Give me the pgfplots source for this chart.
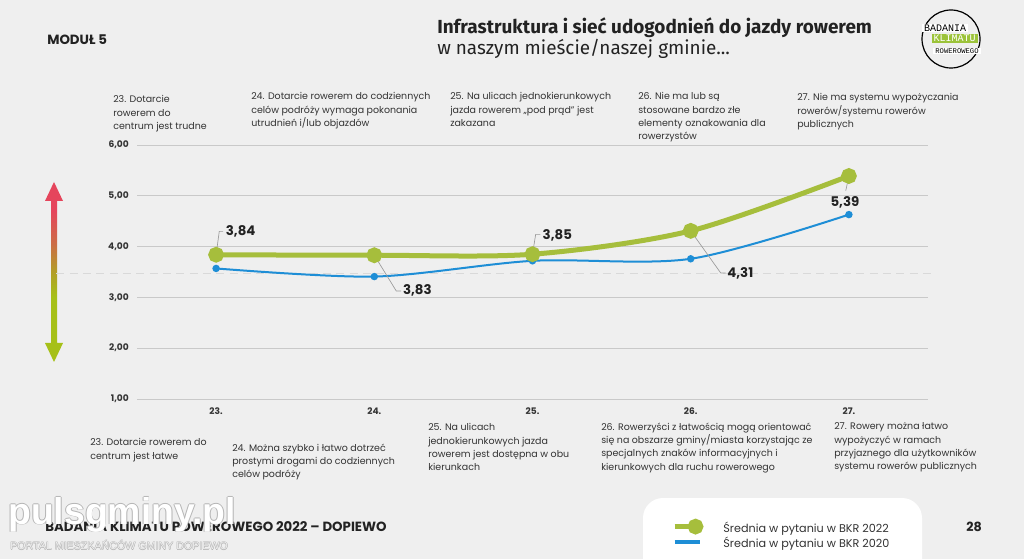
\documentclass[border=0pt]{standalone}
\usepackage{fontspec}
\setmainfont{Poppins}
\newfontfamily\titlefont{Fira Sans}
\newfontfamily\logofont{Liberation Mono}
\newfontfamily\wmfont{Liberation Sans}
\usepackage{pgfplots}
\pgfplotsset{compat=1.18}

\definecolor{bg}{HTML}{EFEFEF}
\definecolor{bkrgreen}{HTML}{A6BE3C}
\definecolor{bkrblue}{HTML}{1E8ED6}
\definecolor{gridc}{HTML}{C9C9C9}
\definecolor{dashc}{HTML}{D9D9D9}
\definecolor{txt}{HTML}{333333}
\definecolor{txtdark}{HTML}{222222}
\definecolor{leader}{HTML}{9A9A9A}
\definecolor{arrred}{HTML}{E5455C}
\definecolor{arrorange}{HTML}{CC6C46}
\definecolor{arrolive}{HTML}{B29E26}
\definecolor{arrgreen}{HTML}{A6C018}
\definecolor{logogreen}{HTML}{9CC33A}
\definecolor{wmgray}{HTML}{B5B5B5}

\pgfdeclareverticalshading{arrowshade}{100bp}{color(0bp)=(arrgreen); color(43bp)=(arrgreen); color(50bp)=(arrolive); color(58bp)=(arrorange); color(67bp)=(arrred); color(100bp)=(arrred)}

\begin{document}
\begin{tikzpicture}[x=0.75pt,y=-0.75pt,
  ann/.style={anchor=north west, align=left, inner sep=0pt, font=\fontsize{7.1}{10}\selectfont, text=txt}]
\useasboundingbox (0,0) rectangle (1024,559);
\clip (0,0) rectangle (1024,559);
\fill[bg] (0,0) rectangle (1024,559);
\coordinate (axorigin) at (137,399);

% header
\node[anchor=west, font=\bfseries\fontsize{10}{12}\selectfont, text=txtdark, inner sep=0pt] at (47,40) {MODUŁ 5};
\node[anchor=west, font=\titlefont\bfseries\fontsize{14.2}{16}\selectfont, text=txtdark, inner sep=0pt] at (437,28) {Infrastruktura i sieć udogodnień do jazdy rowerem};
\node[anchor=west, font=\titlefont\fontsize{14.2}{16}\selectfont, text=txtdark, inner sep=0pt] at (437,49) {w naszym mieście/naszej gminie...};

% logo
\draw[line width=0.9pt, black] (951,39) circle[radius=21.75pt];
\node[fill=white, inner xsep=1.5pt, inner ysep=0.6pt, font=\logofont\fontsize{7.5}{8}\selectfont, text=black] at (945,28) {BADANIA};
\node[fill=logogreen, inner xsep=1.5pt, inner ysep=0.6pt, font=\logofont\fontsize{7.5}{8}\selectfont, text=white] at (954.5,38.5) {KLIMATU};
\node[fill=white, inner xsep=1.5pt, inner ysep=0.6pt, font=\logofont\fontsize{5.4}{6}\selectfont, text=black] at (957,51) {ROWEROWEGO};

% gradient arrow
\shade[shading=arrowshade] (54,182) -- (63,201) -- (57,201) -- (57,343) -- (63,343) -- (54,362) -- (45,343) -- (51,343) -- (51,201) -- (45,201) -- cycle;

% top annotations
\node[ann] at (113,95.5) {23. Dotarcie\\rowerem do\\centrum jest trudne};
\node[ann] at (251,92.5) {24. Dotarcie rowerem do codziennych\\celów podróży wymaga pokonania\\utrudnień i/lub objazdów};
\node[ann] at (450,92.5) {25. Na ulicach jednokierunkowych\\jazda rowerem „pod prąd” jest\\zakazana};
\node[ann] at (638,92.5) {26. Nie ma lub są\\stosowane bardzo złe\\elementy oznakowania dla\\rowerzystów};
\node[ann] at (797,93.5) {27. Nie ma systemu wypożyczania\\rowerów/systemu rowerów\\publicznych};

% bottom annotations
\node[ann] at (90,438.5) {23. Dotarcie rowerem do\\centrum jest łatwe};
\node[ann] at (232,443.5) {24. Można szybko i łatwo dotrzeć\\prostymi drogami do codziennych\\celów podróży};
\node[ann] at (428,423.5) {25. Na ulicach\\jednokierunkowych jazda\\rowerem jest dostępna w obu\\kierunkach};
\node[ann] at (601,422.5) {26. Rowerzyści z łatwością mogą orientować\\się na obszarze gminy/miasta korzystając ze\\specjalnych znaków informacyjnych i\\kierunkowych dla ruchu rowerowego};
\node[ann] at (834,422.5) {27. Rowery można łatwo\\wypożyczyć w ramach\\przyjaznego dla użytkowników\\systemu rowerów publicznych};

% legend box and footer
\fill[white, rounded corners=15pt] (643,498) rectangle (922,620);
\node[anchor=west, font=\bfseries\fontsize{10}{12}\selectfont, text=txtdark, inner sep=0pt] at (45,527) {BADANIA KLIMATU ROWEROWEGO 2022 – DOPIEWO};
\node[font=\bfseries\fontsize{9.5}{11}\selectfont, text=txtdark, inner sep=0pt] at (974,527) {28};

\begin{axis}[
  at={(axorigin)}, anchor=south west,
  width=593.25pt, height=190.5pt, scale only axis,
  xmin=22.5, xmax=27.5, ymin=1, ymax=6,
  xtick={23,24,25,26,27}, xticklabels={23.,24.,25.,26.,27.},
  ytick={1,2,3,4,5,6}, yticklabels={{1,00},{2,00},{3,00},{4,00},{5,00},{6,00}},
  ymajorgrids, major grid style={draw=gridc, line width=0.75pt},
  axis line style={draw=none}, major tick length=0pt,
  tick label style={font=\bfseries\fontsize{6.8}{8}\selectfont, text=txt, inner sep=0pt},
  xticklabel style={anchor=center, yshift=-9pt},
  yticklabel style={anchor=east, xshift=-6pt},
  clip=false,
  legend style={at={(0.6764,-0.5335)}, anchor=west, draw=none, fill=none,
    inner sep=0pt, outer sep=0pt, font=\fontsize{8.4}{9}\selectfont, text=txt,
    row sep=3.45pt, column sep=15pt,
    nodes={inner sep=0pt, text height=6pt, text depth=1.8pt}},
  legend cell align=left, reverse legend,
]
\draw[dashc, line width=0.75pt, dash pattern=on 6pt off 4pt] (axis cs:21.99,3.47) -- (axis cs:27.544,3.47);

\addplot[bkrblue, line width=1.5pt, smooth, mark=*, mark size=2pt,
  mark options={solid, draw=none, fill=bkrblue},
  legend image code/.code={\draw[bkrblue, line width=3pt] (0pt,2.5pt) -- (18.75pt,2.5pt);}]
  coordinates {(23,3.57) (24,3.41) (25,3.72) (26,3.76) (27,4.63)};
\addlegendentry{Średnia w pytaniu w BKR 2020}

\addplot[bkrgreen, line width=3.75pt, smooth, mark=*, mark size=4pt,
  mark options={solid, draw=none, fill=bkrgreen},
  legend image code/.code={\draw[bkrgreen, line width=3.75pt] (0pt,2.5pt) -- (15.75pt,2.5pt); \fill[bkrgreen] (15.75pt,2.5pt) circle[radius=4pt];}]
  coordinates {(23,3.84) (24,3.83) (25,3.85) (26,4.31) (27,5.39)};
\addlegendentry{Średnia w pytaniu w BKR 2022}

% leader lines and data labels
\draw[leader, line width=0.5pt] (axis cs:23,3.84) -- (axis cs:23.02,4.30) -- (axis cs:23.045,4.30);
\draw[leader, line width=0.5pt] (axis cs:24,3.83) -- (axis cs:24.139,3.126) -- (axis cs:24.17,3.126);
\draw[leader, line width=0.5pt] (axis cs:25,3.85) -- (axis cs:25.02,4.24) -- (axis cs:25.05,4.24);
\draw[leader, line width=0.5pt] (axis cs:26,4.31) -- (axis cs:26.19,3.48) -- (axis cs:26.22,3.48);
\draw[leader, line width=0.5pt] (axis cs:27,5.39) -- (axis cs:26.98,5.10);
\tikzset{dl/.style={font=\bfseries\fontsize{10}{12}\selectfont, text=txtdark, inner sep=0pt}}
\node[dl, anchor=west] at (axis cs:23.06,4.29) {3,84};
\node[dl, anchor=west] at (axis cs:24.18,3.135) {3,83};
\node[dl, anchor=west] at (axis cs:25.063,4.23) {3,85};
\node[dl, anchor=west] at (axis cs:26.23,3.48) {4,31};
\node[dl] at (axis cs:26.975,4.88) {5,39};
\end{axis}

% watermark
\foreach \dx/\dy in {0.7/0,-0.7/0,0/0.7,0/-0.7}{
  \node[anchor=base west, inner sep=0pt, font=\wmfont\bfseries\fontsize{28}{30}\selectfont, text=wmgray] at ([xshift=\dx pt, yshift=\dy pt]8,524) {pulsgminy.pl};
}
\node[anchor=base west, inner sep=0pt, font=\wmfont\bfseries\fontsize{28}{30}\selectfont, text=white] at (8,524) {pulsgminy.pl};
\foreach \dx/\dy in {0.35/0,-0.35/0,0/0.35,0/-0.35}{
  \node[anchor=west, inner sep=0pt, font=\wmfont\fontsize{8}{9}\selectfont, text=wmgray] at ([xshift=\dx pt, yshift=\dy pt]10,545) {PORTAL MIESZKAŃCÓW GMINY DOPIEWO};
}
\node[anchor=west, inner sep=0pt, font=\wmfont\fontsize{8}{9}\selectfont, text=bg] at (10,545) {PORTAL MIESZKAŃCÓW GMINY DOPIEWO};
\end{tikzpicture}
\end{document}
